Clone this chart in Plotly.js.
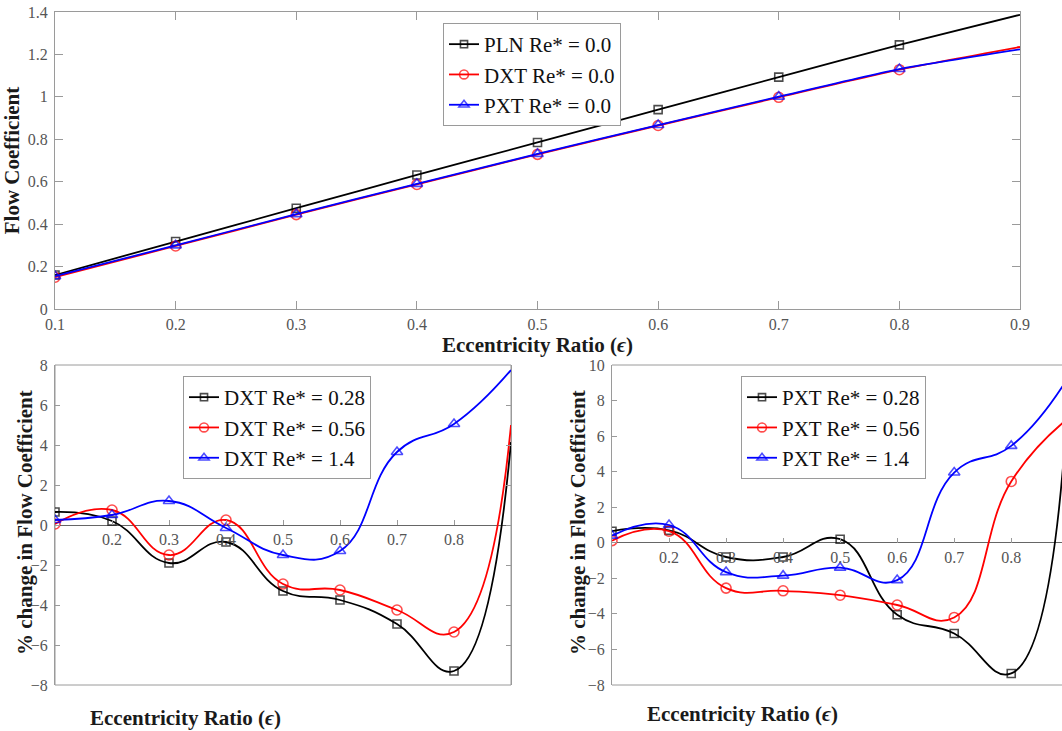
<!DOCTYPE html>
<html>
<head>
<meta charset="utf-8">
<script src="https://cdn.plot.ly/plotly-3.0.1.min.js"></script>
<style>html,body{margin:0;padding:0;background:#fff;}#chart{width:1062px;height:731px;}</style>
</head>
<body>
<div id="chart"></div>
<script>
// ---- Data ----
const ecc = [0.1, 0.2, 0.3, 0.4, 0.5, 0.6, 0.7, 0.8, 0.9];

// Top panel: flow coefficient at Re* = 0.0
const plnRe0 = [0.160, 0.318, 0.475, 0.632, 0.785, 0.940, 1.093, 1.245, 1.387];
const dxtRe0 = [0.150, 0.297, 0.445, 0.587, 0.729, 0.865, 0.998, 1.128, 1.235];
const pxtRe0 = [0.155, 0.300, 0.447, 0.590, 0.731, 0.867, 1.001, 1.131, 1.224];

// Bottom-left: % change, DXT
const dxt028 = [0.65, 0.20, -1.90, -0.85, -3.30, -3.75, -4.95, -7.30, 4.15];
const dxt056 = [0.05, 0.75, -1.50, 0.25, -2.95, -3.25, -4.25, -5.35, 5.00];
const dxt14  = [0.25, 0.50, 1.20, -0.15, -1.50, -1.30, 3.65, 5.05, 7.75];

// Bottom-right: % change, PXT
const pxt028 = [0.65, 0.70, -0.80, -0.80, 0.20, -4.05, -5.10, -7.35, 8.50];
const pxt056 = [0.12, 0.65, -2.55, -2.70, -2.95, -3.50, -4.20, 3.45, 7.00];
const pxt14  = [0.40, 1.00, -1.65, -1.85, -1.40, -2.10, 3.95, 5.45, 9.30];

const topTicks = [0.1, 0.2, 0.3, 0.4, 0.5, 0.6, 0.7, 0.8, 0.9];
const bottomTicks = [0.2, 0.3, 0.4, 0.5, 0.6, 0.7, 0.8];

const topNames = ['PLN Re* = 0.0', 'DXT Re* = 0.0', 'PXT Re* = 0.0'];
const dxtNames = ['DXT Re* = 0.28', 'DXT Re* = 0.56', 'DXT Re* = 1.4'];
const pxtNames = ['PXT Re* = 0.28', 'PXT Re* = 0.56', 'PXT Re* = 1.4'];

const xTitle = 'Eccentricity Ratio (<i>ϵ</i>)';
const yTitleTop = 'Flow Coefficient';
const yTitleBottom = '% change in Flow Coefficient';

// ---- Layout helpers ----
const W = 1062, H = 731;
const px = v => v / W;
const py = v => 1 - v / H;

const serif = 'Liberation Serif, Times New Roman, serif';
const colors = ['#000000', '#ff0000', '#0000ff'];
const symbols = ['square-open', 'circle-open', 'triangle-up-open'];
const mSizes = [8, 10, 10];
const sizesFor = (n, s) => ecc.map((_, i) => i === n - 1 ? 0 : s);

function mk(y, k, name, xa, ya, leg, smooth) {
  return {
    x: ecc, y: y, name: name, type: 'scatter', mode: 'lines+markers',
    xaxis: xa, yaxis: ya, legend: leg,
    line: {color: colors[k], width: 1.8, shape: 'spline', smoothing: smooth},
    marker: {symbol: symbols[k], size: sizesFor(ecc.length, mSizes[k]), color: colors[k], line: {color: colors[k], width: 1.6}},
    cliponaxis: true
  };
}

const traces = [
  mk(plnRe0, 0, topNames[0], 'x', 'y', 'legend', 0.6),
  mk(dxtRe0, 1, topNames[1], 'x', 'y', 'legend', 0.6),
  mk(pxtRe0, 2, topNames[2], 'x', 'y', 'legend', 0.6),
  mk(dxt028, 0, dxtNames[0], 'x2', 'y2', 'legend2', 1.3),
  mk(dxt056, 1, dxtNames[1], 'x2', 'y2', 'legend2', 1.3),
  mk(dxt14, 2, dxtNames[2], 'x2', 'y2', 'legend2', 1.3),
  mk(pxt028, 0, pxtNames[0], 'x3', 'y3', 'legend3', 1.3),
  mk(pxt056, 1, pxtNames[1], 'x3', 'y3', 'legend3', 1.3),
  mk(pxt14, 2, pxtNames[2], 'x3', 'y3', 'legend3', 1.3)
];

const axisGray = '#9a9a9a';
const tickFont = {family: serif, size: 16, color: '#555'};
const titleFont = {family: serif, size: 21, color: '#1a1a1a', weight: 'bold'};
const legendFont = {family: serif, size: 21, color: '#111'};

const topDom = [py(309), py(12)];
const botDom = [py(685), py(365)];
const blRange = [-8, 8], brRange = [-8, 10];
const zeroPos = (dom, r) => dom[0] + (0 - r[0]) / (r[1] - r[0]) * (dom[1] - dom[0]);

const legendBase = {
  bgcolor: '#ffffff', bordercolor: axisGray, borderwidth: 1,
  font: legendFont, xanchor: 'left', yanchor: 'top', tracegroupgap: 0
};

const layout = {
  width: W, height: H,
  margin: {l: 0, r: 0, t: 0, b: 0},
  paper_bgcolor: '#ffffff', plot_bgcolor: '#ffffff',
  font: {family: serif},
  xaxis: {
    domain: [px(55), px(1020)], range: [0.1, 0.9], anchor: 'y',
    tickvals: topTicks, ticks: 'inside', ticklen: 8, tickcolor: axisGray,
    showline: true, linecolor: axisGray, mirror: 'ticks', showgrid: false, zeroline: false,
    tickfont: tickFont, ticklabelstandoff: 1,
    title: {text: xTitle, font: titleFont, standoff: 3}
  },
  yaxis: {
    domain: topDom, range: [0, 1.4], anchor: 'x', dtick: 0.2,
    ticks: 'inside', ticklen: 8, tickcolor: axisGray,
    showline: true, linecolor: axisGray, mirror: 'ticks', showgrid: false, zeroline: false,
    tickfont: tickFont, ticklabelstandoff: 3,
    title: {text: yTitleTop, font: titleFont, standoff: 2}
  },
  xaxis2: {
    domain: [px(55), px(511)], range: [0.1, 0.9], anchor: 'free',
    position: zeroPos(botDom, blRange),
    tickvals: bottomTicks, ticks: 'inside', ticklen: 5, tickcolor: axisGray,
    showline: false, showgrid: false, zeroline: false, tickfont: tickFont, ticklabelstandoff: 3
  },
  yaxis2: {
    domain: botDom, range: blRange, anchor: 'x2', dtick: 2,
    ticks: 'inside', ticklen: 5, tickcolor: axisGray,
    showline: true, linecolor: axisGray, mirror: 'ticks', showgrid: false,
    zeroline: true, zerolinecolor: '#666', zerolinewidth: 1,
    tickfont: tickFont, ticklabelstandoff: 3
  },
  xaxis3: {
    domain: [px(612), 1], range: [0.1, 0.889], anchor: 'free',
    position: zeroPos(botDom, brRange),
    tickvals: bottomTicks, ticks: 'inside', ticklen: 5, tickcolor: axisGray,
    showline: false, showgrid: false, zeroline: false, tickfont: tickFont, ticklabelstandoff: 3
  },
  yaxis3: {
    domain: botDom, range: brRange, anchor: 'x3', dtick: 2,
    ticks: 'inside', ticklen: 5, tickcolor: axisGray,
    showline: true, linecolor: axisGray, mirror: false, showgrid: false,
    zeroline: true, zerolinecolor: '#666', zerolinewidth: 1,
    tickfont: tickFont, ticklabelstandoff: 3
  },
  legend: Object.assign({}, legendBase, {x: px(443), y: py(23)}),
  legend2: Object.assign({}, legendBase, {x: px(183), y: py(376)}),
  legend3: Object.assign({}, legendBase, {x: px(741), y: py(376)}),
  shapes: [
    {type: 'rect', xref: 'x2 domain', yref: 'y2 domain', x0: 0, x1: 1, y0: 0, y1: 1,
     line: {color: axisGray, width: 1}, layer: 'below'},
    {type: 'line', xref: 'x3 domain', yref: 'y3 domain', x0: 0, x1: 1, y0: 0, y1: 0,
     line: {color: axisGray, width: 1}, layer: 'below'},
    {type: 'line', xref: 'x3 domain', yref: 'y3 domain', x0: 0, x1: 1, y0: 1, y1: 1,
     line: {color: axisGray, width: 1}, layer: 'below'}
  ],
  annotations: [
    {text: xTitle, xref: 'paper', yref: 'paper', x: px(185), y: py(718),
     xanchor: 'center', yanchor: 'middle', showarrow: false, font: titleFont},
    {text: xTitle, xref: 'paper', yref: 'paper', x: px(742), y: py(714),
     xanchor: 'center', yanchor: 'middle', showarrow: false, font: titleFont},
    {text: yTitleBottom, xref: 'paper', yref: 'paper', x: px(25), y: py(523),
     xanchor: 'center', yanchor: 'middle', textangle: -90, showarrow: false, font: titleFont},
    {text: yTitleBottom, xref: 'paper', yref: 'paper', x: px(578), y: py(523),
     xanchor: 'center', yanchor: 'middle', textangle: -90, showarrow: false, font: titleFont}
  ],
  showlegend: true
};

Plotly.newPlot('chart', traces, layout, {displayModeBar: false, staticPlot: true});
</script>
</body>
</html>
